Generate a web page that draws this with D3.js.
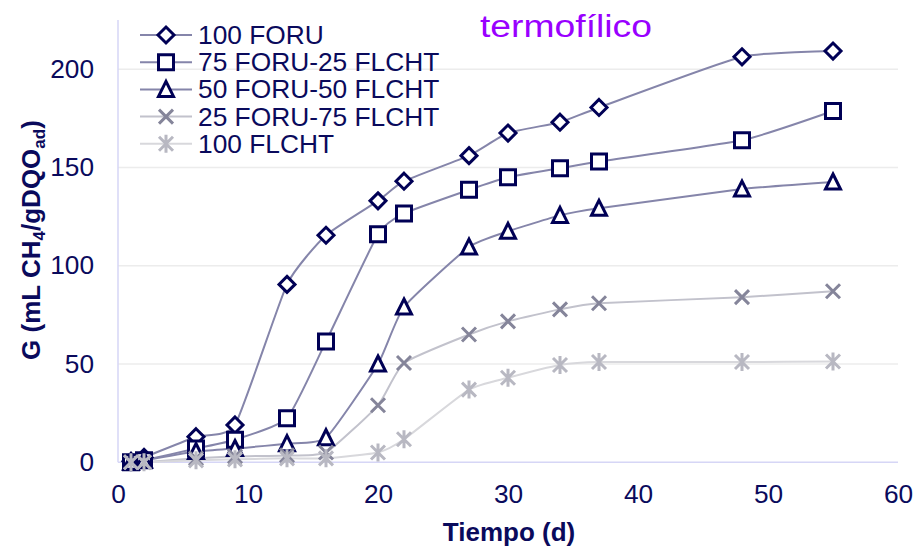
<!DOCTYPE html>
<html><head><meta charset="utf-8">
<script src="https://cdn.jsdelivr.net/npm/d3@7"></script>
<style>body{margin:0;background:#fff}svg{display:block}text{font-family:"Liberation Sans",Arial,sans-serif}</style>
</head><body>
<script>
const days = [1, 2, 6, 9, 13, 16, 20, 22, 27, 30, 34, 37, 48, 55];
const seriesNames = ["100 FORU", "75 FORU-25 FLCHT", "50 FORU-50 FLCHT", "25 FORU-75 FLCHT", "100 FLCHT"];
const foru100 = [0.5, 2.5, 13, 19, 90.5, 115.5, 133, 143, 156, 167.5, 173, 180.5, 206.3, 209.2];
const foru75 = [0, 1, 7, 11.5, 22.4, 61.5, 116, 126.6, 138.6, 145, 149.6, 153, 163.8, 178.7];
const foru50 = [0, 1, 5.5, 7, 9.5, 12.5, 50, 79, 109.5, 117.5, 125.6, 129.2, 139, 142.6];
const foru25 = [0, 0, 2, 3, 3.5, 5, 29, 50.5, 65, 71.7, 77.8, 80.9, 84, 87];
const flcht100 = [0, 0, 1, 1.5, 2, 2, 5, 11.7, 37, 43, 49.5, 51, 51, 51.3];
const xTicks = [0, 10, 20, 30, 40, 50, 60];
const yTicks = [0, 50, 100, 150, 200];

const W = 916, H = 547;
const svg = d3.select("body").append("svg").attr("width", W).attr("height", H);
const x = d3.scaleLinear().domain([0, 60]).range([118, 898]);
const y = d3.scaleLinear().domain([0, 225]).range([462.3, 20]);

const navy = "#000055";
const textCol = "#0a0a5c";
const styles = [
  {marker: "diamond", mStroke: navy, line: "#8585aa"},
  {marker: "square", mStroke: navy, line: "#8585aa"},
  {marker: "triangle", mStroke: navy, line: "#8585aa"},
  {marker: "x", mStroke: "#85859a", line: "#c2c2cc"},
  {marker: "star", mStroke: "#b8b8c2", line: "#d8d8dc"}
];
const allSeries = [foru100, foru75, foru50, foru25, flcht100].map((vals, i) => ({
  name: seriesNames[i], style: styles[i], pts: days.map((d, j) => [d, vals[j]])
}));

function stretch(sel, f) {
  sel.each(function () {
    const L = this.getComputedTextLength();
    d3.select(this).attr("textLength", L * f).attr("lengthAdjust", "spacingAndGlyphs");
  });
}

// gridlines
svg.append("g").selectAll("line").data(yTicks.filter(t => t > 0)).join("line")
  .attr("x1", x(0)).attr("x2", x(60)).attr("y1", d => y(d)).attr("y2", d => y(d))
  .attr("stroke", "#ececec").attr("stroke-width", 1.5);

// axes lines
svg.append("line").attr("x1", x(0)).attr("x2", x(0)).attr("y1", y(225)).attr("y2", y(0))
  .attr("stroke", "#d6d6f6").attr("stroke-width", 1.5);
svg.append("line").attr("x1", x(0)).attr("x2", x(60)).attr("y1", y(0)).attr("y2", y(0))
  .attr("stroke", "#d6d6f6").attr("stroke-width", 1.5);

// axes tick labels via d3 axes
const xAxis = svg.append("g").attr("transform", `translate(0,${y(0)})`)
  .call(d3.axisBottom(x).tickValues(xTicks).tickSize(0).tickPadding(23));
xAxis.select(".domain").remove();
xAxis.selectAll("text").attr("font-size", 25).attr("fill", textCol).attr("font-family", "Liberation Sans, Arial");
stretch(xAxis.selectAll("text"), 1.05);
const yAxis = svg.append("g").attr("transform", `translate(${x(0)},0)`)
  .call(d3.axisLeft(y).tickValues(yTicks).tickSize(0).tickPadding(24));
yAxis.select(".domain").remove();
yAxis.selectAll("text").attr("font-size", 25).attr("fill", textCol).attr("font-family", "Liberation Sans, Arial");
stretch(yAxis.selectAll("text"), 1.05);

// lines
const lineGen = d3.line().x(d => x(d[0])).y(d => y(d[1])).curve(d3.curveCardinal.tension(0.5));
svg.append("g").selectAll("path").data(allSeries).join("path")
  .attr("d", s => lineGen(s.pts)).attr("fill", "none")
  .attr("stroke", s => s.style.line).attr("stroke-width", 2);

function markerPath(type) {
  switch (type) {
    case "diamond": return "M0,-8L8,0L0,8L-8,0Z";
    case "square": return "M-7.5,-7.5H7.5V7.5H-7.5Z";
    case "triangle": return "M0,-8L7.5,7L-7.5,7Z";
    case "x": return "M-7,-7L7,7M-7,7L7,-7";
    case "star": return "M-7,-7L7,7M-7,7L7,-7M0,-9V9";
  }
}
function drawMarker(g, type, stroke) {
  g.append("path").attr("d", markerPath(type))
    .attr("fill", (type === "x" || type === "star") ? "none" : "#fff")
    .attr("stroke", stroke).attr("stroke-width", 3)
    .attr("stroke-linejoin", "miter").attr("stroke-linecap", "butt");
}
allSeries.forEach(s => {
  const g = svg.append("g");
  s.pts.forEach(p => {
    drawMarker(g.append("g").attr("transform", `translate(${x(p[0])},${y(p[1])})`), s.style.marker, s.style.mStroke);
  });
});

// legend
const legY0 = 35, legDy = 27.2;
allSeries.forEach((s, i) => {
  const cy = legY0 + i * legDy;
  svg.append("line").attr("x1", 140).attr("x2", 192).attr("y1", cy).attr("y2", cy)
    .attr("stroke", s.style.line).attr("stroke-width", 2);
  drawMarker(svg.append("g").attr("transform", `translate(166,${cy})`), s.style.marker, s.style.mStroke);
  const t = svg.append("text").attr("x", 198).attr("y", cy + 9).attr("font-size", 25)
    .attr("fill", textCol).text(s.name);
  stretch(t, 1.053);
});

// title
svg.append("text").attr("x", 480).attr("y", 37)
  .attr("font-size", 31).attr("fill", "#9900ff")
  .attr("textLength", 172).attr("lengthAdjust", "spacingAndGlyphs").text("termofílico");

// axis titles
svg.append("text").attr("x", 509).attr("y", 541).attr("text-anchor", "middle")
  .attr("font-size", 26).attr("font-weight", "bold").attr("fill", textCol).text("Tiempo (d)");
const yt = svg.append("text").attr("transform", "translate(40,240) rotate(-90)")
  .attr("text-anchor", "middle").attr("font-size", 26).attr("font-weight", "bold").attr("fill", textCol);
yt.append("tspan").text("G (mL CH");
yt.append("tspan").attr("font-size", 17).attr("dy", 5).text("4");
yt.append("tspan").attr("dy", -5).text("/gDQO");
yt.append("tspan").attr("font-size", 17).attr("dy", 5).text("ad");
yt.append("tspan").attr("dy", -5).text(")");
</script>
</body></html>
